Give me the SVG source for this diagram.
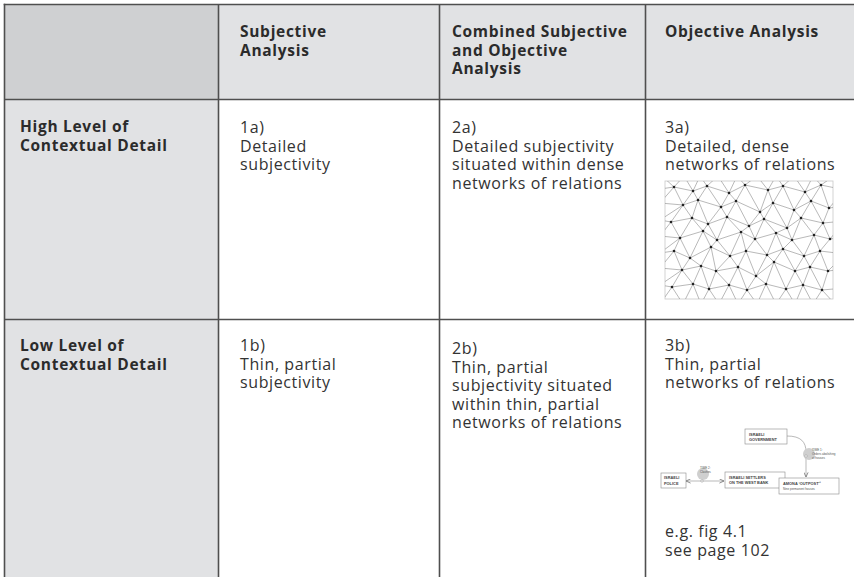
<svg xmlns="http://www.w3.org/2000/svg" width="854" height="577" viewBox="0 0 854 577">
  <style>
    .grid { stroke: #4f4f4f; stroke-width: 1.6; fill: none; }
    .head { font-family: "Open Sans", "Liberation Sans", sans-serif; font-weight: 700; font-size: 15.5px; letter-spacing: 0.7px; fill: #2b2b2b; }
    .body { font-family: "Open Sans", "Liberation Sans", sans-serif; font-weight: 400; font-size: 16px; letter-spacing: 0.6px; fill: #333; }
    .mesh { stroke: #8a8a8a; stroke-width: 0.6; fill: none; }
    .dot { fill: #222; }
    .box { fill: #fff; stroke: #8a8a8a; stroke-width: 0.6; }
    .blab { font-family: "Liberation Sans", sans-serif; font-weight: 700; font-size: 3.9px; fill: #444; }
    .slab { font-family: "Liberation Sans", sans-serif; font-size: 3px; fill: #555; }
    .link { stroke: #8a8a8a; stroke-width: 0.6; fill: none; }
    .halo { fill: #cfcfcf; }
    .knot { fill: #fff; stroke: #8a8a8a; stroke-width: 0.5; }
  </style>
  <defs>
    <marker id="tip" viewBox="0 0 6 6" refX="5.5" refY="3" markerWidth="5" markerHeight="5" orient="auto-start-reverse" markerUnits="userSpaceOnUse">
      <path d="M0,0.5 L5.5,3 L0,5.5" fill="none" stroke="#777" stroke-width="1"/>
    </marker>
    <clipPath id="meshClip">
      <rect x="665" y="181" width="168" height="118"/>
    </clipPath>
  </defs>

  <!-- table background -->
  <g id="table-fill">
    <rect x="4" y="4" width="850" height="95.5" fill="#e1e2e4"/>
    <rect x="4" y="4" width="214.5" height="95.5" fill="#cfd0d2"/>
    <rect x="4" y="99.5" width="214.5" height="477.5" fill="#e1e2e4"/>
  </g>

  <!-- table rules -->
  <g id="table-rules" class="grid">
    <path d="M3.7,4.5 H854"/>
    <path d="M4.5,3.7 V577"/>
    <path d="M4,99.5 H854"/>
    <path d="M4,319.5 H854"/>
    <path d="M218.5,4 V577"/>
    <path d="M439.5,4 V577"/>
    <path d="M645.5,4 V577"/>
  </g>

  <!-- column headings -->
  <g id="col-subjective">
    <text class="head" x="240" y="37">Subjective</text>
    <text class="head" x="240" y="55.5">Analysis</text>
  </g>
  <g id="col-combined">
    <text class="head" x="452" y="37">Combined Subjective</text>
    <text class="head" x="452" y="55.5">and Objective</text>
    <text class="head" x="452" y="74">Analysis</text>
  </g>
  <g id="col-objective">
    <text class="head" x="665" y="37">Objective Analysis</text>
  </g>

  <!-- row headings -->
  <g id="row-high">
    <text class="head" x="20" y="132">High Level of</text>
    <text class="head" x="20" y="150.5">Contextual Detail</text>
  </g>
  <g id="row-low">
    <text class="head" x="20" y="351">Low Level of</text>
    <text class="head" x="20" y="369.5">Contextual Detail</text>
  </g>

  <!-- cells -->
  <g id="cell-1a">
    <text class="body" x="240" y="133">1a)</text>
    <text class="body" x="240" y="151.5">Detailed</text>
    <text class="body" x="240" y="170">subjectivity</text>
  </g>
  <g id="cell-2a">
    <text class="body" x="452" y="133">2a)</text>
    <text class="body" x="452" y="151.5">Detailed subjectivity</text>
    <text class="body" x="452" y="170">situated within dense</text>
    <text class="body" x="452" y="188.5">networks of relations</text>
  </g>
  <g id="cell-3a">
    <text class="body" x="665" y="133">3a)</text>
    <text class="body" x="665" y="151.5">Detailed, dense</text>
    <text class="body" x="665" y="170">networks of relations</text>
  </g>
  <g id="cell-1b">
    <text class="body" x="240" y="351">1b)</text>
    <text class="body" x="240" y="369.5">Thin, partial</text>
    <text class="body" x="240" y="388">subjectivity</text>
  </g>
  <g id="cell-2b">
    <text class="body" x="452" y="354">2b)</text>
    <text class="body" x="452" y="372.5">Thin, partial</text>
    <text class="body" x="452" y="391">subjectivity situated</text>
    <text class="body" x="452" y="409.5">within thin, partial</text>
    <text class="body" x="452" y="428">networks of relations</text>
  </g>
  <g id="cell-3b">
    <text class="body" x="665" y="351">3b)</text>
    <text class="body" x="665" y="369.5">Thin, partial</text>
    <text class="body" x="665" y="388">networks of relations</text>
    <text class="body" x="665" y="537">e.g. fig 4.1</text>
    <text class="body" x="665" y="555.5">see page 102</text>
  </g>

  <!-- dense network figure -->
  <g id="dense-network">
    <rect x="665" y="181" width="168" height="118" fill="#fff" stroke="#c8c8c8" stroke-width="0.8"/>
    <g clip-path="url(#meshClip)" class="mesh">
      <!-- rows -->
      <polyline points="660,189 674,187 693,191 707,186 729,193 745,185 768,190 783,186 805,192 821,185 845,190"/>
      <polyline points="660,203 683,205 698,200 721,207 736,201 760,212 773,203 794,210 811,201 829,208 845,206"/>
      <polyline points="660,220 671,222 692,218 708,224 727,217 749,226 764,219 787,228 801,218 823,223 845,221"/>
      <polyline points="660,236 680,238 703,231 717,240 741,232 755,239 776,233 792,240 814,235 830,239 845,237"/>
      <polyline points="660,253 674,251 690,258 711,247 730,256 746,251 767,255 783,249 804,256 820,251 845,254"/>
      <polyline points="660,268 682,270 701,266 716,271 738,267 756,276 774,262 795,271 810,267 828,271 845,269"/>
      <polyline points="660,285 672,287 693,284 709,289 729,285 747,290 766,284 786,289 803,285 822,290 845,288"/>
      <!-- strips between rows -->
      <polyline points="662,176 674,187 684,176 693,191 700,176 707,186 718,176 729,193 737,176 745,185 757,176 768,190 776,176 783,186 794,176 805,192 813,176 821,185 834,176"/>
      <polyline points="674,187 683,205 693,191 698,200 707,186 721,207 729,193 736,201 745,185 760,212 768,190 773,203 783,186 794,210 805,192 811,201 821,185 829,208"/>
      <polyline points="671,222 683,205 692,218 698,200 708,224 721,207 727,217 736,201 749,226 760,212 764,219 773,203 787,228 794,210 801,218 811,201 823,223 829,208"/>
      <polyline points="671,222 680,238 692,218 703,231 708,224 717,240 727,217 741,232 749,226 755,239 764,219 776,233 787,228 792,240 801,218 814,235 823,223 830,239"/>
      <polyline points="674,251 680,238 690,258 703,231 711,247 717,240 730,256 741,232 746,251 755,239 767,255 776,233 783,249 792,240 804,256 814,235 820,251 830,239"/>
      <polyline points="674,251 682,270 690,258 701,266 711,247 716,271 730,256 738,267 746,251 756,276 767,255 774,262 783,249 795,271 804,256 810,267 820,251 828,271"/>
      <polyline points="672,287 682,270 693,284 701,266 709,289 716,271 729,285 738,267 747,290 756,276 766,284 774,262 786,289 795,271 803,285 810,267 822,290 828,271"/>
      <polyline points="660,304 672,287 683,304 693,284 701,304 709,289 719,304 729,285 738,304 747,290 757,304 766,284 776,304 786,289 795,304 803,285 813,304 822,290 835,304"/>
      <!-- edges running out to the frame -->
      <path d="M674,187 L660,203 M683,205 L660,220 M671,222 L660,236 M680,238 L660,253 M674,251 L660,268 M682,270 L660,285 M829,208 L845,190 M830,239 L845,221 M828,271 L845,254"/>
    </g>
    <g class="dot">
      <circle cx="674" cy="187" r="1.3"/><circle cx="693" cy="191" r="1.3"/><circle cx="707" cy="186" r="1.3"/><circle cx="729" cy="193" r="1.3"/><circle cx="745" cy="185" r="1.3"/><circle cx="768" cy="190" r="1.3"/><circle cx="783" cy="186" r="1.3"/><circle cx="805" cy="192" r="1.3"/><circle cx="821" cy="185" r="1.3"/>
      <circle cx="683" cy="205" r="1.3"/><circle cx="698" cy="200" r="1.3"/><circle cx="721" cy="207" r="1.3"/><circle cx="736" cy="201" r="1.3"/><circle cx="760" cy="212" r="1.3"/><circle cx="773" cy="203" r="1.3"/><circle cx="794" cy="210" r="1.3"/><circle cx="811" cy="201" r="1.3"/><circle cx="829" cy="208" r="1.3"/>
      <circle cx="671" cy="222" r="1.3"/><circle cx="692" cy="218" r="1.3"/><circle cx="708" cy="224" r="1.3"/><circle cx="727" cy="217" r="1.3"/><circle cx="749" cy="226" r="1.3"/><circle cx="764" cy="219" r="1.3"/><circle cx="787" cy="228" r="1.3"/><circle cx="801" cy="218" r="1.3"/><circle cx="823" cy="223" r="1.3"/>
      <circle cx="680" cy="238" r="1.3"/><circle cx="703" cy="231" r="1.3"/><circle cx="717" cy="240" r="1.3"/><circle cx="741" cy="232" r="1.3"/><circle cx="755" cy="239" r="1.3"/><circle cx="776" cy="233" r="1.3"/><circle cx="792" cy="240" r="1.3"/><circle cx="814" cy="235" r="1.3"/><circle cx="830" cy="239" r="1.3"/>
      <circle cx="674" cy="251" r="1.3"/><circle cx="690" cy="258" r="1.3"/><circle cx="711" cy="247" r="1.3"/><circle cx="730" cy="256" r="1.3"/><circle cx="746" cy="251" r="1.3"/><circle cx="767" cy="255" r="1.3"/><circle cx="783" cy="249" r="1.3"/><circle cx="804" cy="256" r="1.3"/><circle cx="820" cy="251" r="1.3"/>
      <circle cx="682" cy="270" r="1.3"/><circle cx="701" cy="266" r="1.3"/><circle cx="716" cy="271" r="1.3"/><circle cx="738" cy="267" r="1.3"/><circle cx="756" cy="276" r="1.3"/><circle cx="774" cy="262" r="1.3"/><circle cx="795" cy="271" r="1.3"/><circle cx="810" cy="267" r="1.3"/><circle cx="828" cy="271" r="1.3"/>
      <circle cx="672" cy="287" r="1.3"/><circle cx="693" cy="284" r="1.3"/><circle cx="709" cy="289" r="1.3"/><circle cx="729" cy="285" r="1.3"/><circle cx="747" cy="290" r="1.3"/><circle cx="766" cy="284" r="1.3"/><circle cx="786" cy="289" r="1.3"/><circle cx="803" cy="285" r="1.3"/><circle cx="822" cy="290" r="1.3"/>
    </g>
  </g>

  <!-- small actor map: connectors -->
  <g id="map-connectors">
    <path class="link" d="M787,436 C801,436 806,442 806,452 L806,477" marker-end="url(#tip)"/>
    <path class="link" d="M686,481 L724,481" marker-start="url(#tip)" marker-end="url(#tip)"/>
    <circle class="halo" cx="809" cy="454" r="6"/>
    <circle class="knot" cx="806" cy="456" r="1.2"/>
    <circle class="halo" cx="703" cy="474" r="6"/>
    <circle class="knot" cx="702" cy="481" r="1.2"/>
    <text class="slab" x="812" y="451">TIME 1:</text>
    <text class="slab" x="812" y="455">Orders abolishing</text>
    <text class="slab" x="812" y="459">of houses</text>
    <text class="slab" x="700" y="469">TIME 2:</text>
    <text class="slab" x="700" y="473">Clashes</text>
  </g>
  <g id="node-government">
    <rect class="box" x="745" y="429" width="42" height="15"/>
    <text class="blab" x="749" y="435.5">ISRAELI</text>
    <text class="blab" x="749" y="441">GOVERNMENT</text>
  </g>
  <g id="node-police">
    <rect class="box" x="661" y="473" width="25" height="15"/>
    <text class="blab" x="664" y="479">ISRAELI</text>
    <text class="blab" x="664" y="484.5">POLICE</text>
  </g>
  <g id="node-settlers">
    <rect class="box" x="725" y="472" width="60" height="16"/>
    <text class="blab" x="729" y="478.5">ISRAELI SETTLERS</text>
    <text class="blab" x="729" y="484">ON THE WEST BANK</text>
  </g>
  <g id="node-amona">
    <rect class="box" x="779" y="478" width="60" height="16"/>
    <text class="blab" x="783" y="484.5">AMONA ‘OUTPOST’¹</text>
    <text class="slab" x="783" y="490">Nine permanent houses</text>
  </g>
</svg>
